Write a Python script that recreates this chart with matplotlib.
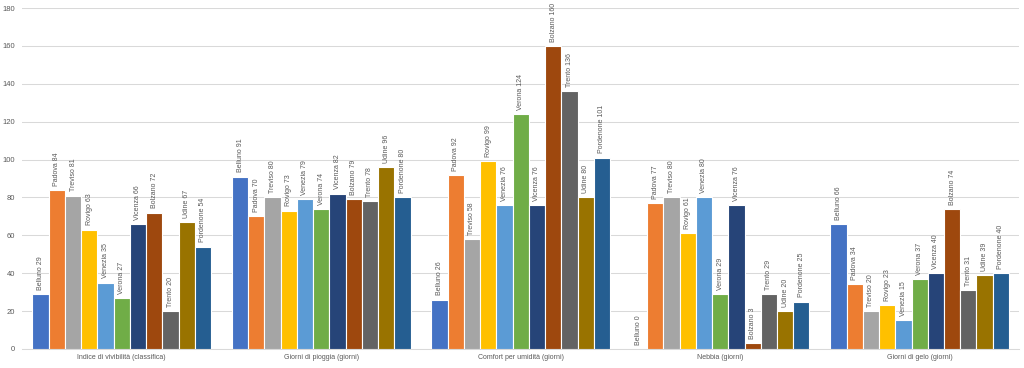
import numpy as np
import matplotlib.pyplot as plt

# Dati
categorie = ["Indice di vivibilità (classifica)", "Giorni di pioggia (giorni)",
             "Comfort per umidità (giorni)", "Nebbia (giorni)", "Giorni di gelo (giorni)"]
citta = ["Belluno", "Padova", "Treviso", "Rovigo", "Venezia", "Verona",
         "Vicenza", "Bolzano", "Trento", "Udine", "Pordenone"]

belluno = [29, 91, 26, 0, 66]
padova = [84, 70, 92, 77, 34]
treviso = [81, 80, 58, 80, 20]
rovigo = [63, 73, 99, 61, 23]
venezia = [35, 79, 76, 80, 15]
verona = [27, 74, 124, 29, 37]
vicenza = [66, 82, 76, 76, 40]
bolzano = [72, 79, 160, 3, 74]
trento = [20, 78, 136, 29, 31]
udine = [67, 96, 80, 20, 39]
pordenone = [54, 80, 101, 25, 40]

serie = [belluno, padova, treviso, rovigo, venezia, verona,
         vicenza, bolzano, trento, udine, pordenone]
colori = ["#4472C4", "#ED7D31", "#A5A5A5", "#FFC000", "#5B9BD5", "#70AD47",
          "#264478", "#9E480E", "#636363", "#997300", "#255E91"]

plt.rcParams['font.family'] = ['Liberation Sans', 'DejaVu Sans']
grigio = "#595959"

fig = plt.figure(figsize=(10.24, 3.68), dpi=100)
ax = fig.add_axes([0.0215, 0.052, 0.974, 0.926])

x = np.arange(len(categorie))
w = 0.0814
n = len(serie)
for i, (nome, valori) in enumerate(zip(citta, serie)):
    pos = x + (i - (n - 1) / 2) * w
    barre = ax.bar(pos, valori, width=w, color=colori[i], edgecolor="white",
                   linewidth=0.8, zorder=3)
    for b, v in zip(barre, valori):
        ax.annotate(f"{nome} {v}", (b.get_x() + b.get_width() / 2, v),
                    xytext=(0, 3), textcoords="offset points", rotation=90,
                    ha="center", va="bottom", fontsize=5, color=grigio)

ax.set_ylim(0, 180)
ax.set_yticks(range(0, 181, 20))
ax.set_xlim(-0.5, len(categorie) - 0.5)
ax.set_xticks(x)
ax.set_xticklabels(categorie)
ax.tick_params(axis="both", length=0, labelsize=5, colors=grigio)
ax.tick_params(axis="y", labelsize=5.5, pad=5)
ax.tick_params(axis="x", pad=4)
ax.grid(axis="y", color="#D9D9D9", linewidth=0.75, zorder=0)
for s in ["top", "right", "left"]:
    ax.spines[s].set_visible(False)
ax.spines["bottom"].set_color("#D9D9D9")
ax.spines["bottom"].set_linewidth(0.75)

fig.savefig("out.png", dpi=100)
